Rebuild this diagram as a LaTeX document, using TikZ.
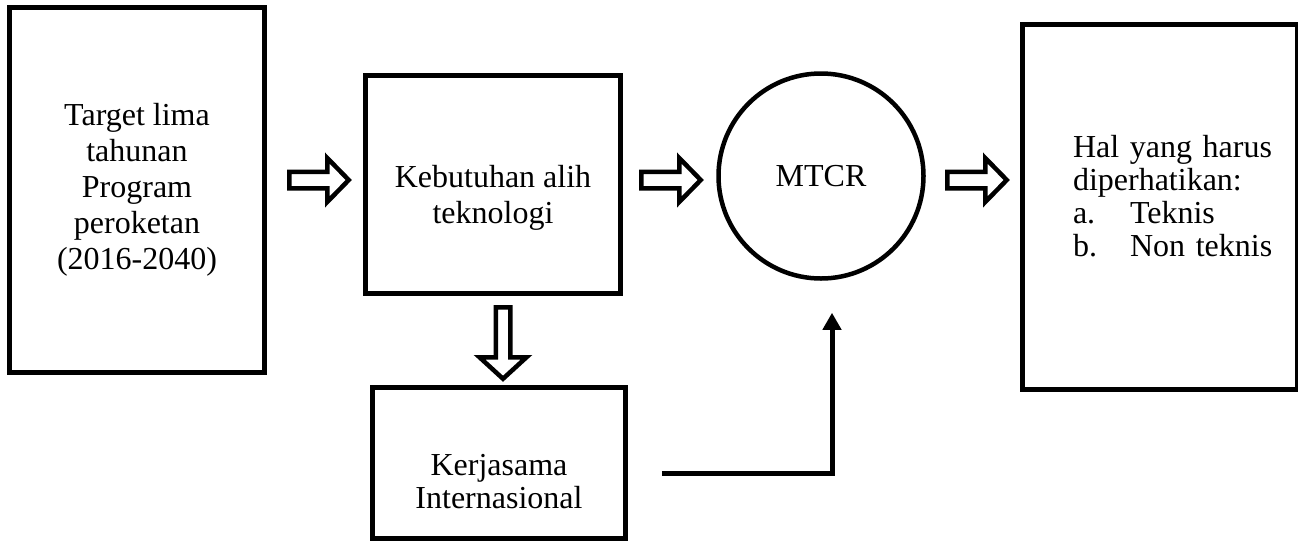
\documentclass[tikz,border=0pt]{standalone}
\usepackage{fontspec}
\setmainfont{Liberation Serif}
\usetikzlibrary{calc, positioning, arrows.meta}

\tikzset{
	box/.style={draw, line width=4.5pt, inner sep=0pt, align=center},
	% hollow block arrow: length, head back, shaft half, head half
	pics/fat/.style n args={4}{code={
		\draw[line width=4.5pt, line join=miter] (0,-#3) -- (#2,-#3) -- (#2,-#4) -- (#1,0)
			-- (#2,#4) -- (#2,#3) -- (0,#3) -- cycle;
	}},
}

\begin{document}
\begin{tikzpicture}[x=1pt, y=-1pt, font=\fontsize{32}{36}\selectfont]
		\useasboundingbox (0,0) rectangle (1298,542);
		
		\node[box, minimum width=255pt, minimum height=365pt] (target) at (137,190)
			{Target lima\\tahunan\\Program\\peroketan\\(2016-2040)};
		
		\node[box, minimum width=255pt, minimum height=218pt, text height=84pt] (alih) at (493,184.5)
			{Kebutuhan alih\\teknologi};
		
		\node[box, minimum width=253pt, minimum height=151pt, text height=91pt,
			font=\fontsize{32}{33}\selectfont] (kerja) at (499,463)
			{Kerjasama\\Internasional};
		
		\node[draw, circle, line width=4.5pt, inner sep=0pt, minimum size=205pt] (mtcr) at (821,176) {MTCR};
		
		\node[box, align=left, text width=174pt, minimum width=275pt, minimum height=365pt, text height=0pt,
			font=\fontsize{32}{33}\selectfont] (hal) at (1160,207)
			{\mbox{Hal yang harus}\\\mbox{diperhatikan:}\\\makebox[57pt][l]{a.}Teknis\\\mbox{\makebox[57pt][l]{b.}Non teknis}};
		
		% block arrows
		\pic at ($(target.east)+(22.5,-10)$) {fat={59.5}{38}{8.25}{22}};
		\pic at ($(alih.east)+(18.5,-4.5)$) {fat={59.5}{38}{8.25}{22}};
		\pic at ($(mtcr.east)+(21.5,4)$) {fat={59.5}{38}{8.25}{22}};
		\pic[rotate=-90] at ($(alih.south)+(10,11.5)$) {fat={71.5}{50}{7.25}{23.5}};
		
		% kerjasama to MTCR
		\coordinate (kstart) at ($(kerja.east)+(34,10)$);
		\coordinate (kend) at ($(mtcr.south)+(11,32)$);
		\draw[line width=5pt, line join=miter, -{Triangle[width=18pt,length=17pt]}] (kstart) -| (kend);

	\end{tikzpicture}
\end{document}
